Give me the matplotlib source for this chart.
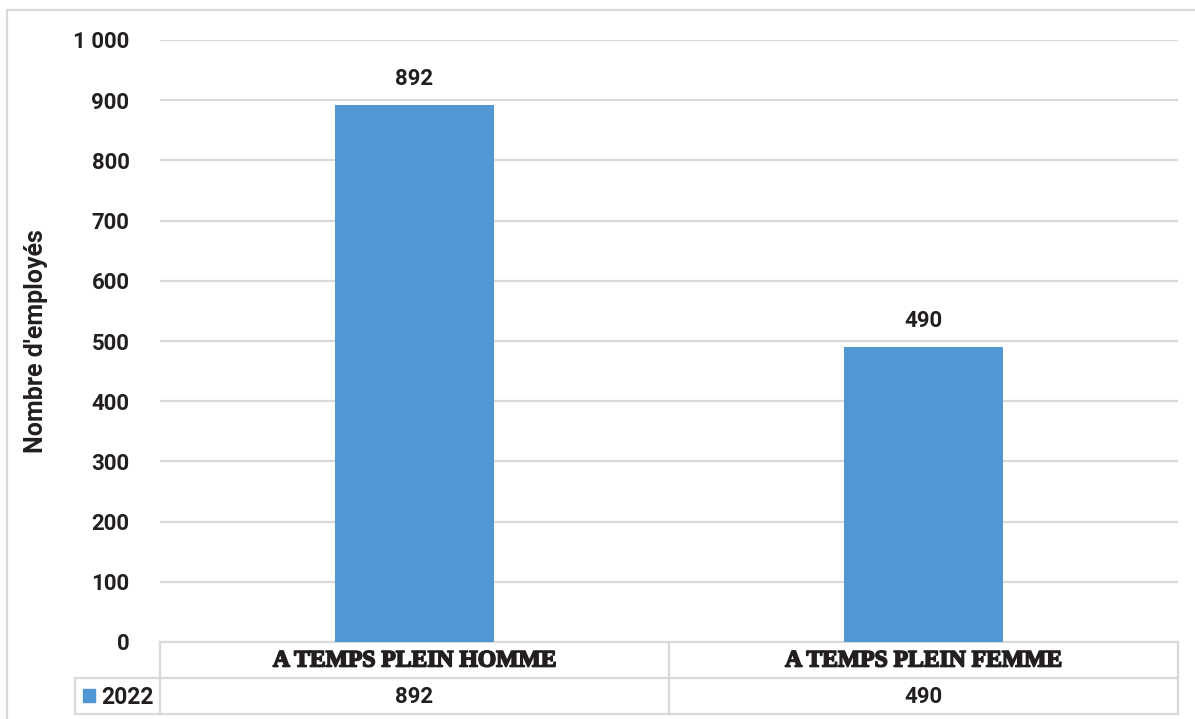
import matplotlib
matplotlib.use("Agg")
import matplotlib.pyplot as plt
import matplotlib.transforms as mtransforms
import matplotlib.patheffects as pe
from matplotlib.patches import Rectangle
import numpy as np

CATEGORIES = ["A TEMPS PLEIN HOMME", "A TEMPS PLEIN FEMME"]
SERIES_NAME = "2022"
VALUES = [892, 490]
Y_TICKS = [0, 100, 200, 300, 400, 500, 600, 700, 800, 900, 1000]
Y_TICK_LABELS = ["0", "100", "200", "300", "400", "500", "600", "700", "800", "900", "1 000"]
Y_LABEL = "Nombre d'employés"

BAR_COLOR = "#5097d3"
GRID_COLOR = "#d9d9d9"
TEXT_COLOR = "#231f20"
W, H = 1195, 719

fig = plt.figure(figsize=(W / 100, H / 100), dpi=100)
fig.patch.set_facecolor("white")

# outer chart frame (cropped at right and bottom)
fig.patches.append(Rectangle((7 / W, -0.05), 1.1, 1 - 10 / H + 0.05,
                             transform=fig.transFigure, fill=False,
                             edgecolor=GRID_COLOR, lw=1.6))

left, right, top, bottom = 160, 1178, 40, 642
ax = fig.add_axes([left / W, 1 - bottom / H, (right - left) / W, (bottom - top) / H])

x = np.arange(len(CATEGORIES))
ax.bar(x, VALUES, width=0.313, color=BAR_COLOR, zorder=3)
for xi, v in zip(x, VALUES):
    ax.annotate(f"{v}", (xi, v), xytext=(0, 11), textcoords="offset points",
                ha="center", va="bottom", fontsize=16, fontweight="bold",
                family="Roboto", color=TEXT_COLOR)

ax.set_xlim(-0.5, len(CATEGORIES) - 0.5)
ax.set_ylim(0, 1000)
ax.set_yticks(Y_TICKS)
ax.set_yticklabels(Y_TICK_LABELS, fontsize=16, fontweight="bold",
                   family="Roboto", color=TEXT_COLOR)
ax.tick_params(axis="y", length=0, pad=22)
ax.set_xticks([])
for yv in Y_TICKS[1:]:
    ax.axhline(yv, color=GRID_COLOR, lw=1.6, zorder=1)
for s in ax.spines.values():
    s.set_visible(False)

ax.set_ylabel(Y_LABEL, fontsize=18, fontweight="bold", family="Roboto",
              color=TEXT_COLOR, labelpad=18)

# data table below the axes
pix = mtransforms.Affine2D().scale(1 / W, -1 / H).translate(0, 1) + fig.transFigure
tbl = mtransforms.blended_transform_factory(ax.transData, pix)
row1, row2, row3 = 642, 678, 714
cell_left = 75
line_kw = dict(color=GRID_COLOR, lw=1.6, clip_on=False)
xl, xr = -0.5, len(CATEGORIES) - 0.5
ax.plot([xl, xr], [row1, row1], transform=tbl, **line_kw)
for xb in np.arange(len(CATEGORIES) + 1) - 0.5:
    ax.plot([xb, xb], [row1, row3], transform=tbl, **line_kw)
for yr in (row2, row3):
    fig.add_artist(plt.Line2D([cell_left / W, right / W], [1 - yr / H, 1 - yr / H],
                              color=GRID_COLOR, lw=1.6))
fig.add_artist(plt.Line2D([cell_left / W, cell_left / W], [1 - row2 / H, 1 - row3 / H],
                          color=GRID_COLOR, lw=1.6))

heavy = [pe.withStroke(linewidth=1.2, foreground=TEXT_COLOR)]
for xi, cat, v in zip(x, CATEGORIES, VALUES):
    ax.text(xi, (row1 + row2) / 2 + 1, cat, transform=tbl, ha="center", va="center",
            fontsize=17, fontweight="bold", family="Liberation Serif",
            color=TEXT_COLOR, clip_on=False, path_effects=heavy)
    ax.text(xi, (row2 + row3) / 2 + 1, f"{v}", transform=tbl, ha="center", va="center",
            fontsize=16, fontweight="bold", family="Roboto", color=TEXT_COLOR,
            clip_on=False)

fig.patches.append(Rectangle((83 / W, 1 - 702 / H), 12 / W, 13 / H,
                             transform=fig.transFigure, color=BAR_COLOR))
fig.text(101 / W, 1 - 697 / H, SERIES_NAME, ha="left", va="center", fontsize=16.5,
         fontweight="bold", family="Roboto", color=TEXT_COLOR)

fig.savefig("out.png", dpi=100, facecolor="white")
